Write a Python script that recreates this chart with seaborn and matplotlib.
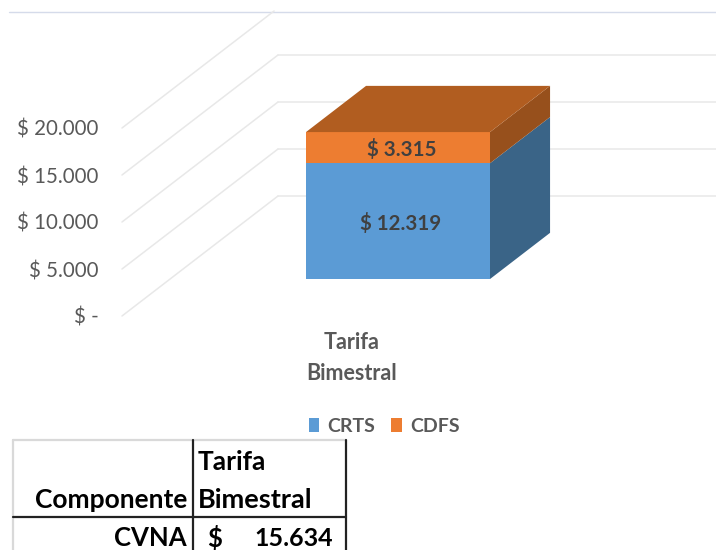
import numpy as np
import matplotlib.pyplot as plt
import matplotlib.patches as mpatches
import seaborn as sns

# valores
CATEGORY = ['Tarifa\nBimestral']
CRTS = [12319]
CDFS = [3315]
Y_TICKS = [0, 5000, 10000, 15000, 20000]
Y_LABELS = ['$ -', '$ 5.000', '$ 10.000', '$ 15.000', '$ 20.000']
BAR_LABELS = ['$ 12.319', '$ 3.315']
TABLE_HEAD = ['Componente', 'Tarifa', 'Bimestral']
TABLE_ROW = ['CVNA', '$', '15.634']

sns.set_theme(style='white')
plt.rcParams['font.family'] = ['Lato', 'DejaVu Sans']

W, H = 716, 550
BLUE, ORANGE = '#5B9BD5', '#ED7D31'
BLUE_SIDE, ORANGE_SIDE, ORANGE_TOP = '#3A6487', '#97501C', '#B15D20'
GRID = '#E8E8E8'
TEXT = '#595959'

# escala de pixeles del eje principal
PX_X, PX_Y = 230.0, 0.0094   # px por unidad x, px por peso
AX_LEFT, AX_BOTTOM = 108, 400
FLOOR_DX, FLOOR_DY = 156 / PX_X, 120 / PX_Y   # fondo del piso oblicuo
BAR_NEAR, BAR_DEPTH = 0.308, 0.385            # posicion de la barra en el piso

fig = plt.figure(figsize=(W / 100, H / 100), dpi=100)
ax = fig.add_axes([AX_LEFT / W, 1 - AX_BOTTOM / H, (W - AX_LEFT) / W, AX_BOTTOM / H])
ax.patch.set_alpha(0)

lift = BAR_NEAR * FLOOR_DY
sns.barplot(x=CATEGORY, y=CRTS, color=BLUE, saturation=1, width=0.8, linewidth=0,
            bottom=lift, label='CRTS', ax=ax, zorder=3)
sns.barplot(x=CATEGORY, y=CDFS, color=ORANGE, saturation=1, width=0.8, linewidth=0,
            bottom=lift + CRTS[0], label='CDFS', ax=ax, zorder=3)

ax.set_xlim((AX_LEFT - 398) / PX_X, (W - 398) / PX_X)
ax.set_ylim((316 - AX_BOTTOM) / PX_Y, 316 / PX_Y)

# piso y pared del fondo
x0 = (122 - 398) / PX_X
for v in Y_TICKS:
    top = v == Y_TICKS[-1]
    end = 0.975 if top else 1.0
    ax.plot([x0, x0 + end * FLOOR_DX], [v, v + end * FLOOR_DY], color=GRID, lw=1.1, zorder=1)
    if not top:
        ax.plot([x0 + FLOOR_DX, ax.get_xlim()[1]], [v + FLOOR_DY] * 2, color=GRID, lw=1.1, zorder=1)

# caras laterales y superior de la barra
xl, xr = -0.4, 0.4
dx, dy = BAR_DEPTH * FLOOR_DX, BAR_DEPTH * FLOOR_DY
b0, b1, b2 = lift, lift + CRTS[0], lift + CRTS[0] + CDFS[0]
for verts, c in [
    ([(xr, b0), (xr + dx, b0 + dy), (xr + dx, b1 + dy), (xr, b1)], BLUE_SIDE),
    ([(xr, b1), (xr + dx, b1 + dy), (xr + dx, b2 + dy), (xr, b2)], ORANGE_SIDE),
    ([(xl, b2), (xl + dx, b2 + dy), (xr + dx, b2 + dy), (xr, b2)], ORANGE_TOP),
]:
    ax.add_patch(mpatches.Polygon(verts, closed=True, fc=c, ec='none', zorder=3))

ax.text(0.012, b0 + CRTS[0] / 2 - 200, BAR_LABELS[0], ha='center', va='center',
        fontsize=14.8, fontweight='bold', color='#404040', zorder=5)
ax.text(0.016, b1 + CDFS[0] / 2 - 200, BAR_LABELS[1], ha='center', va='center',
        fontsize=14.8, fontweight='bold', color='#404040', zorder=5)

ax.set_yticks(Y_TICKS, Y_LABELS)
ax.set_xticks([])
ax.set_xlabel('')
ax.tick_params(axis='y', length=0, pad=7, labelsize=14.8, labelcolor=TEXT)
sns.despine(ax=ax, left=True, bottom=True)

ax.text(-46 / PX_X, (316 - 358) / PX_Y, CATEGORY[0], ha='center', va='center',
        fontsize=15.5, fontweight='bold', color=TEXT, linespacing=1.55)

ax.legend(loc='center', bbox_to_anchor=(384 / W, 1 - 426 / H), bbox_transform=fig.transFigure,
          ncol=2, frameon=False, handlelength=0.55, handleheight=0.75, handletextpad=0.4,
          columnspacing=0.85, prop={'size': 14, 'weight': 'bold'}, labelcolor=TEXT)

# tabla de abajo en pixeles
tb = fig.add_axes([0, 0, 1, 1], zorder=-1)
tb.set_xlim(0, W)
tb.set_ylim(H, 0)
tb.axis('off')
for xs, ys, c in [
    ([13, 346], [440, 440], '#D9D9D9'), ([13, 13], [440, H], '#D9D9D9'),
    ([193, 193], [440, H], '#222222'), ([346, 346], [440, H], '#222222'),
    ([13, 346], [517, 517], '#222222'),
]:
    tb.plot(xs, ys, color=c, lw=1.6)
tb.plot([9, W], [12, 12], color='#D5DBEA', lw=1)

kw = dict(fontweight='bold', color='black', va='center')
tb.text(187, 500, TABLE_HEAD[0], ha='right', fontsize=19, **kw)
tb.text(198, 462, TABLE_HEAD[1], ha='left', fontsize=19, **kw)
tb.text(198, 500, TABLE_HEAD[2], ha='left', fontsize=19.5, **kw)
tb.text(187, 538, TABLE_ROW[0], ha='right', fontsize=18.5, **kw)
tb.text(207, 538, TABLE_ROW[1], ha='left', fontsize=18.5, **kw)
tb.text(333, 538, TABLE_ROW[2], ha='right', fontsize=18, **kw)

fig.savefig('out.png', dpi=100)
plt.close()
